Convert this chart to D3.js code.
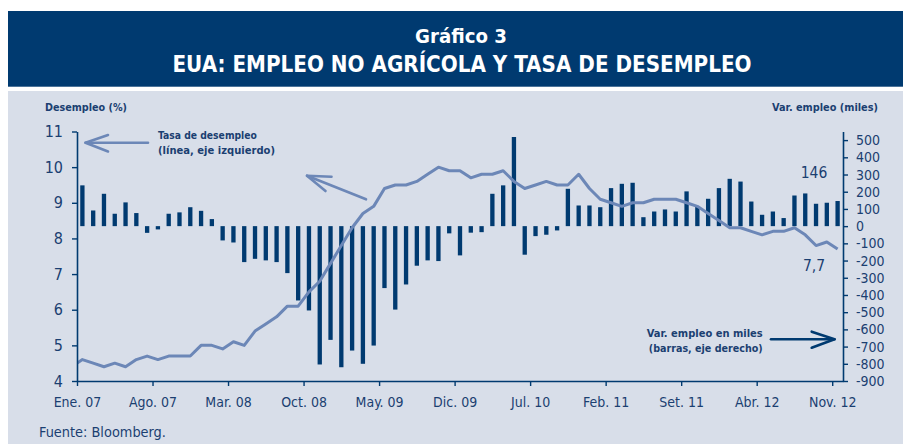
<!DOCTYPE html>
<html>
<head>
<meta charset="utf-8">
<script src="https://cdn.jsdelivr.net/npm/d3@7"></script>
<style>
  body { margin: 0; background: #fff; }
  text { font-family: "Liberation Sans Narrow", "DejaVu Sans Condensed", "Noto Sans", sans-serif; }
</style>
</head>
<body>
<div id="chart"></div>
<script>
var svgWidth = 903;
var svgHeight = 444;

// months Ene. 07 .. Nov. 12
var months = d3.timeMonths(new Date(2007, 0, 1), new Date(2012, 11, 1));

// tasa de desempleo (%), eje izquierdo
var prevRate = 4.4; // Dic. 06, only for the first clipped segment
var unemployment = [
  4.6, 4.5, 4.4, 4.5, 4.4, 4.6, 4.7, 4.6, 4.7, 4.7, 4.7, 5.0,
  5.0, 4.9, 5.1, 5.0, 5.4, 5.6, 5.8, 6.1, 6.1, 6.5, 6.8, 7.3,
  7.8, 8.3, 8.7, 8.9, 9.4, 9.5, 9.5, 9.6, 9.8, 10.0, 9.9, 9.9,
  9.7, 9.8, 9.8, 9.9, 9.6, 9.4, 9.5, 9.6, 9.5, 9.5, 9.8, 9.4,
  9.1, 9.0, 8.9, 9.0, 9.0, 9.1, 9.1, 9.1, 9.0, 8.9, 8.7, 8.5,
  8.3, 8.3, 8.2, 8.1, 8.2, 8.2, 8.3, 8.1, 7.8, 7.9, 7.7
];

// var. empleo no agricola (miles), eje derecho
var payrolls = [
  237, 91, 188, 72, 138, 76, -39, -19, 72, 80, 110, 89,
  41, -83, -95, -209, -190, -199, -209, -273, -432, -490, -804, -661,
  -820, -723, -800, -694, -360, -485, -339, -230, -199, -203, -42, -170,
  -38, -35, 188, 237, 518, -166, -58, -50, -25, 217, 120, 120,
  110, 221, 246, 252, 52, 85, 97, 85, 202, 112, 159, 221,
  275, 259, 143, 66, 85, 47, 178, 190, 130, 136, 146
];

var xTickLabels = ["Ene. 07", "Ago. 07", "Mar. 08", "Oct. 08", "May. 09", "Dic. 09",
  "Jul. 10", "Feb. 11", "Set. 11", "Abr. 12", "Nov. 12"];
var leftTicks = [4, 5, 6, 7, 8, 9, 10, 11];
var rightTicks = d3.range(-900, 501, 100);

var navy = "#003a70";
var textCol = "#1b3f71";
var lineCol = "#6c87b7";

var plot = { left: 77, right: 843, top: 131.5, bottom: 381 };

var svg = d3.select("#chart")
  .append("svg")
  .attr("width", svgWidth)
  .attr("height", svgHeight);

// header + panel
svg.append("rect").attr("x", 8).attr("y", 11).attr("width", svgWidth - 8).attr("height", 75.7).attr("fill", navy);
svg.append("rect").attr("x", 8).attr("y", 91).attr("width", svgWidth - 8).attr("height", svgHeight - 91).attr("fill", "#d8dee9");

function fit(sel, w) {
  var len = sel.node().getComputedTextLength();
  var fs = parseFloat(sel.attr("font-size"));
  sel.attr("font-size", (fs * w / len).toFixed(2));
  return sel;
}

var titleFont = "'Open Sans', 'Noto Sans', sans-serif";
fit(svg.append("text").attr("x", 461).attr("y", 43).attr("text-anchor", "middle")
  .attr("font-family", titleFont).attr("font-weight", "bold").attr("font-size", 21)
  .attr("fill", "#fff").text("Gráfico 3"), 92);
fit(svg.append("text").attr("x", 462).attr("y", 71.5).attr("text-anchor", "middle")
  .attr("font-family", titleFont).attr("font-weight", "bold").attr("font-size", 23)
  .attr("fill", "#fff").text("EUA: EMPLEO NO AGRÍCOLA Y TASA DE DESEMPLEO"), 579);

// scales
var x = d3.scaleBand()
  .domain(months)
  .range([plot.left, plot.right])
  .paddingInner(0.6)
  .paddingOuter(0.3);
var step = x.step();
var cx = d => x(d) + x.bandwidth() / 2;

var yLeft = d3.scaleLinear().domain([4, 11]).range([plot.bottom, plot.top]);
var yRight = d3.scaleLinear().domain([-900, 550]).range([plot.bottom, plot.top]);

// bars
svg.append("g").selectAll("rect")
  .data(payrolls)
  .enter()
  .append("rect")
  .attr("x", (d, i) => x(months[i]))
  .attr("width", x.bandwidth())
  .attr("y", d => yRight(Math.max(0, d)))
  .attr("height", d => Math.abs(yRight(d) - yRight(0)))
  .attr("fill", navy);

// line
svg.append("clipPath").attr("id", "plotClip")
  .append("rect").attr("x", plot.left).attr("y", 0).attr("width", plot.right - plot.left).attr("height", svgHeight);

var linePts = [[cx(months[0]) - step, prevRate]].concat(unemployment.map((v, i) => [cx(months[i]), v]));
svg.append("path")
  .datum(linePts)
  .attr("clip-path", "url(#plotClip)")
  .attr("fill", "none")
  .attr("stroke", lineCol)
  .attr("stroke-width", 3)
  .attr("stroke-linejoin", "round")
  .attr("d", d3.line().x(d => d[0]).y(d => yLeft(d[1])));

// axes
var leftAxis = svg.append("g")
  .attr("transform", `translate(${plot.left},0)`)
  .call(d3.axisLeft(yLeft).tickValues(leftTicks).tickFormat(d3.format("d"))
    .tickSize(5).tickSizeOuter(0).tickPadding(9));
leftAxis.selectAll("text").attr("font-size", 16).attr("fill", textCol);

var rightAxis = svg.append("g")
  .attr("transform", `translate(${plot.right},0)`)
  .call(d3.axisRight(yRight).tickValues(rightTicks).tickFormat(d => String(d))
    .tickSize(5).tickSizeOuter(0).tickPadding(8));
rightAxis.selectAll("text").attr("font-size", 14).attr("fill", textCol);

var tickMonths = xTickLabels.map((t, k) => months[k * 7]);
var bottomAxis = svg.append("g")
  .attr("transform", `translate(0,${plot.bottom})`)
  .call(d3.axisBottom(d3.scaleLinear().domain([plot.left, plot.right]).range([plot.left, plot.right]))
    .tickValues(tickMonths.map(m => x(m) - step * 0.3))
    .tickFormat((d, k) => xTickLabels[k])
    .tickSize(5).tickSizeOuter(0).tickPadding(11));
bottomAxis.selectAll("text").attr("font-size", 14).attr("fill", textCol);

[leftAxis, rightAxis, bottomAxis].forEach(function(a) {
  a.select(".domain").attr("stroke", navy).attr("stroke-width", 1.6);
  a.selectAll(".tick line").attr("stroke", navy).attr("stroke-width", 1.4);
});

// axis titles
fit(svg.append("text").attr("x", 45).attr("y", 111).attr("font-weight", "bold").attr("font-size", 12)
  .attr("fill", textCol).text("Desempleo (%)"), 82);
fit(svg.append("text").attr("x", 878).attr("y", 111).attr("text-anchor", "end").attr("font-weight", "bold")
  .attr("font-size", 12).attr("fill", textCol).text("Var. empleo (miles)"), 106);

// annotations
fit(svg.append("text").attr("x", 158).attr("y", 138.5).attr("font-weight", "bold").attr("font-size", 13)
  .attr("fill", textCol).text("Tasa de desempleo"), 99);
fit(svg.append("text").attr("x", 158).attr("y", 153.5).attr("font-weight", "bold").attr("font-size", 13)
  .attr("fill", textCol).text("(línea, eje izquierdo)"), 117);
fit(svg.append("text").attr("x", 762.7).attr("y", 336.5).attr("text-anchor", "end").attr("font-weight", "bold")
  .attr("font-size", 13).attr("fill", textCol).text("Var. empleo en miles"), 116);
fit(svg.append("text").attr("x", 762.7).attr("y", 351.5).attr("text-anchor", "end").attr("font-weight", "bold")
  .attr("font-size", 13).attr("fill", textCol).text("(barras, eje derecho)"), 114);

svg.append("text").attr("x", 814).attr("y", 178.3).attr("text-anchor", "middle").attr("font-size", 15.5)
  .attr("fill", textCol).text(payrolls[payrolls.length - 1]);
svg.append("text").attr("x", 814).attr("y", 270.5).attr("text-anchor", "middle").attr("font-size", 15.5)
  .attr("fill", textCol).text(String(unemployment[unemployment.length - 1]).replace(".", ","));

fit(svg.append("text").attr("x", 39).attr("y", 436.5).attr("font-size", 14)
  .attr("fill", textCol).text("Fuente: Bloomberg."), 127);

// arrows
function arrow(pts, col) {
  svg.append("path")
    .attr("d", d3.line()(pts))
    .attr("fill", "none")
    .attr("stroke", col)
    .attr("stroke-width", 2.6)
    .attr("stroke-linecap", "round")
    .attr("stroke-linejoin", "round");
}
arrow([[148, 142.7], [85.5, 142.7]], lineCol);
arrow([[108, 135], [85.5, 142.7], [108, 151.5]], lineCol);
arrow([[366, 199.3], [307, 175.7]], lineCol);
arrow([[331.5, 176.7], [307, 175.7], [325.5, 191]], lineCol);
arrow([[771, 339.3], [834.5, 339.3]], navy);
arrow([[811.7, 331.7], [834.5, 339.3], [811.7, 347.7]], navy);
</script>
</body>
</html>
